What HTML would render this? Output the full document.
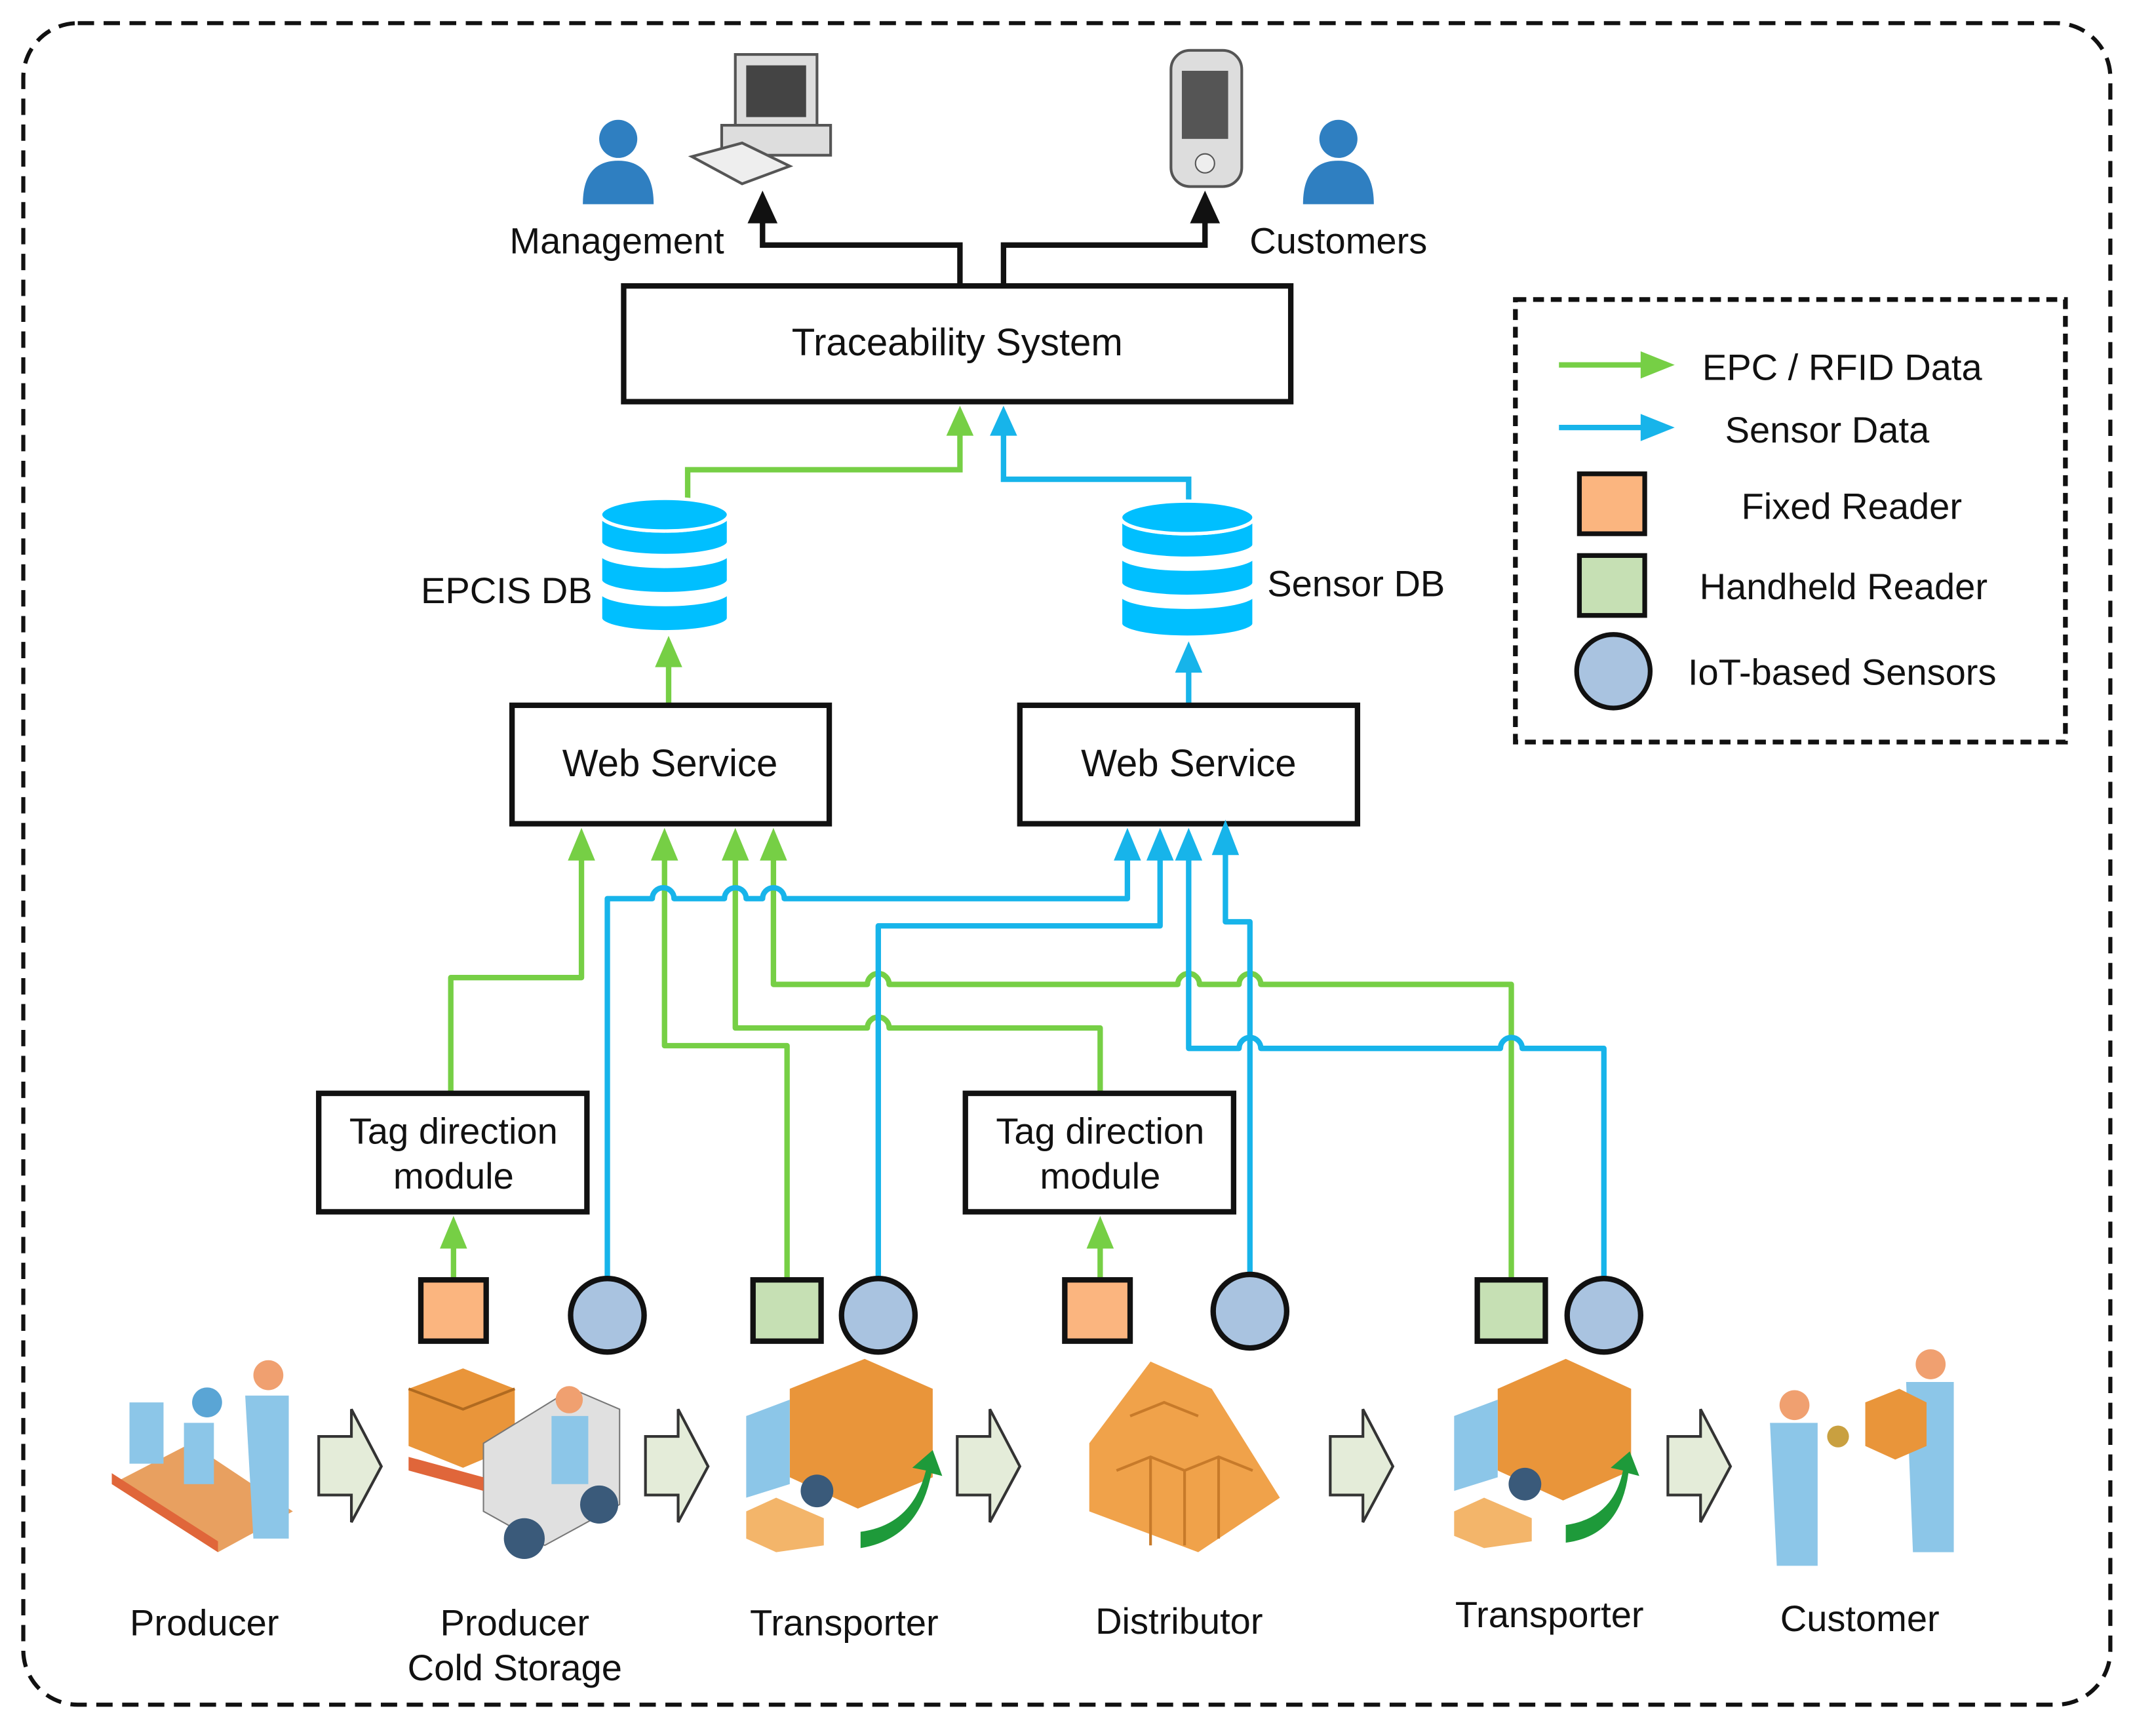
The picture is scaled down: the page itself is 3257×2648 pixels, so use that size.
<!DOCTYPE html>
<html><head><meta charset="utf-8"><style>
html,body{margin:0;padding:0;background:#fff}
svg{display:block}
text{font-family:"Liberation Sans",sans-serif;fill:#111}
</style></head><body>
<svg width="3257" height="2648" viewBox="0 0 1568 1275" xmlns="http://www.w3.org/2000/svg">
<rect x="17" y="17" width="1533" height="1235" rx="40" fill="none" stroke="#111" stroke-width="3" stroke-dasharray="12,7"/>

<g>
<circle cx="454" cy="102" r="14" fill="#2f7fc1"/>
<path d="M428,150 Q428,118 454,118 Q480,118 480,150 Z" fill="#2f7fc1"/>
<rect x="540" y="40" width="60" height="55" fill="#ddd" stroke="#555" stroke-width="2"/>
<rect x="548" y="48" width="44" height="38" fill="#444"/>
<rect x="530" y="92" width="80" height="22" fill="#ddd" stroke="#555" stroke-width="2"/>
<path d="M508,115 L545,135 L580,122 L545,105 Z" fill="#eee" stroke="#555" stroke-width="2"/>
<rect x="860" y="37" width="52" height="100" rx="14" fill="#ddd" stroke="#555" stroke-width="2"/>
<rect x="868" y="52" width="34" height="50" fill="#555"/>
<circle cx="885" cy="120" r="7" fill="#eee" stroke="#555"/>
<circle cx="983" cy="102" r="14" fill="#2f7fc1"/>
<path d="M957,150 Q957,118 983,118 Q1009,118 1009,150 Z" fill="#2f7fc1"/>
</g>
<text x="453" y="186" font-size="27" text-anchor="middle">Management</text>
<text x="983" y="186" font-size="27" text-anchor="middle">Customers</text>

<path d="M705,210 V180 H560 V162" fill="none" stroke="#111" stroke-width="4"/>
<path d="M549,164 L560,140 L571,164 Z" fill="#111"/>
<path d="M737,210 V180 H885 V162" fill="none" stroke="#111" stroke-width="4"/>
<path d="M874,164 L885,140 L896,164 Z" fill="#111"/>

<rect x="458" y="210" width="490" height="85" fill="#fff" stroke="#111" stroke-width="4"/>
<text x="703" y="261" font-size="28" text-anchor="middle">Traceability System</text>

<rect x="1113" y="220" width="404" height="325" fill="none" stroke="#111" stroke-width="3.5" stroke-dasharray="8,5"/>
<line x1="1145" y1="268" x2="1210" y2="268" stroke="#76cf45" stroke-width="4"/>
<path d="M1205,258 L1230,268 L1205,278 Z" fill="#76cf45"/>
<text x="1353" y="279" font-size="27" text-anchor="middle">EPC / RFID Data</text>
<line x1="1145" y1="314" x2="1210" y2="314" stroke="#17b4ea" stroke-width="4"/>
<path d="M1205,304 L1230,314 L1205,324 Z" fill="#17b4ea"/>
<text x="1342" y="325" font-size="27" text-anchor="middle">Sensor Data</text>
<rect x="1160" y="348" width="48" height="44" fill="#fbb57f" stroke="#111" stroke-width="3.5"/>
<text x="1360" y="381" font-size="27" text-anchor="middle">Fixed Reader</text>
<rect x="1160" y="408" width="48" height="44" fill="#c6e0b4" stroke="#111" stroke-width="3.5"/>
<text x="1354" y="440" font-size="27" text-anchor="middle">Handheld Reader</text>
<circle cx="1185" cy="493" r="27" fill="#a9c3e0" stroke="#111" stroke-width="3.5"/>
<text x="1353" y="503" font-size="27" text-anchor="middle">IoT-based Sensors</text>

<path d="M505,367 V345 H705 V318" fill="none" stroke="#76cf45" stroke-width="4"/>
<path d="M695,320 L705,298 L715,320 Z" fill="#76cf45"/>
<path d="M873,367 V352 H737 V318" fill="none" stroke="#17b4ea" stroke-width="4"/>
<path d="M727,320 L737,298 L747,320 Z" fill="#17b4ea"/>

<g fill="#00bfff" stroke="#fff" stroke-width="2.5">
<path d="M441,434 V454 A47,10 0 0 0 535,454 V434 A47,10 0 0 1 441,434 Z"/>
<path d="M441,406 V426 A47,10 0 0 0 535,426 V406 A47,10 0 0 1 441,406 Z"/>
<path d="M441,378 V398 A47,10 0 0 0 535,398 V378 A47,12 0 0 1 441,378 Z"/>
<ellipse cx="488" cy="378" rx="47" ry="12"/>
<path d="M823,436 V458 A49,10 0 0 0 921,458 V436 A49,10 0 0 1 823,436 Z"/>
<path d="M823,408 V428 A49,10 0 0 0 921,428 V408 A49,10 0 0 1 823,408 Z"/>
<path d="M823,380 V400 A49,10 0 0 0 921,400 V380 A49,12 0 0 1 823,380 Z"/>
<ellipse cx="872" cy="380" rx="49" ry="12"/>
</g>
<text x="372" y="443" font-size="27" text-anchor="middle">EPCIS DB</text>
<text x="996" y="438" font-size="27" text-anchor="middle">Sensor DB</text>

<line x1="491" y1="518" x2="491" y2="488" stroke="#76cf45" stroke-width="4"/>
<path d="M481,490 L491,467 L501,490 Z" fill="#76cf45"/>
<line x1="873" y1="518" x2="873" y2="492" stroke="#17b4ea" stroke-width="4"/>
<path d="M863,494 L873,471 L883,494 Z" fill="#17b4ea"/>

<rect x="376" y="518" width="233" height="87" fill="#fff" stroke="#111" stroke-width="4"/>
<text x="492" y="570" font-size="28" text-anchor="middle">Web Service</text>
<rect x="749" y="518" width="248" height="87" fill="#fff" stroke="#111" stroke-width="4"/>
<text x="873" y="570" font-size="28" text-anchor="middle">Web Service</text>

<g fill="none" stroke-width="4" stroke-linejoin="round">
<path d="M331,803 V718 H427 V630" stroke="#76cf45"/>
<path d="M578,940 V768 H488 V630" stroke="#76cf45"/>
<path d="M808,803 V755 H653 A8,8 0 0 0 637,755 H540 V630" stroke="#76cf45"/>
<path d="M1110,940 V723 H926 A8,8 0 0 0 910,723 H881 A8,8 0 0 0 865,723 H653 A8,8 0 0 0 637,723 H568 V630" stroke="#76cf45"/>
<line x1="333" y1="940" x2="333" y2="915" stroke="#76cf45"/>
<line x1="808" y1="940" x2="808" y2="915" stroke="#76cf45"/>
<path d="M446,940 V660 H479 A8,8 0 0 1 495,660 H532 A8,8 0 0 1 548,660 H560 A8,8 0 0 1 576,660 H828 V630" stroke="#17b4ea"/>
<path d="M645,940 V680 H852 V630" stroke="#17b4ea"/>
<path d="M918,940 V677 H900 V626" stroke="#17b4ea"/>
<path d="M1178,940 V770 H1118 A8,8 0 0 0 1102,770 H926 A8,8 0 0 0 910,770 H873 V630" stroke="#17b4ea"/>
</g>
<g>
<path d="M417,632 L427,608 L437,632 Z" fill="#76cf45"/>
<path d="M478,632 L488,608 L498,632 Z" fill="#76cf45"/>
<path d="M530,632 L540,608 L550,632 Z" fill="#76cf45"/>
<path d="M558,632 L568,608 L578,632 Z" fill="#76cf45"/>
<path d="M323,917 L333,893 L343,917 Z" fill="#76cf45"/>
<path d="M798,917 L808,893 L818,917 Z" fill="#76cf45"/>
<path d="M818,632 L828,608 L838,632 Z" fill="#17b4ea"/>
<path d="M842,632 L852,608 L862,632 Z" fill="#17b4ea"/>
<path d="M863,632 L873,608 L883,632 Z" fill="#17b4ea"/>
<path d="M890,628 L900,602 L910,628 Z" fill="#17b4ea"/>
</g>

<rect x="234" y="803" width="197" height="87" fill="#fff" stroke="#111" stroke-width="4"/>
<text x="333" y="840" font-size="27" text-anchor="middle">Tag direction</text>
<text x="333" y="873" font-size="27" text-anchor="middle">module</text>
<rect x="709" y="803" width="197" height="87" fill="#fff" stroke="#111" stroke-width="4"/>
<text x="808" y="840" font-size="27" text-anchor="middle">Tag direction</text>
<text x="808" y="873" font-size="27" text-anchor="middle">module</text>

<g stroke="#111" stroke-width="4">
<rect x="309" y="940" width="48" height="45" fill="#fbb57f"/>
<circle cx="446" cy="966" r="27" fill="#a9c3e0"/>
<rect x="553" y="940" width="50" height="45" fill="#c6e0b4"/>
<circle cx="645" cy="966" r="27" fill="#a9c3e0"/>
<rect x="782" y="940" width="48" height="45" fill="#fbb57f"/>
<circle cx="918" cy="963" r="27" fill="#a9c3e0"/>
<rect x="1085" y="940" width="50" height="45" fill="#c6e0b4"/>
<circle cx="1178" cy="966" r="27" fill="#a9c3e0"/>
</g>

<g fill="#e4ecd9" stroke="#333" stroke-width="2">
<path d="M234,1055 H258 V1035 L280,1077 L258,1118 V1098 H234 Z"/>
<path d="M474,1055 H498 V1035 L520,1077 L498,1118 V1098 H474 Z"/>
<path d="M703,1055 H727 V1035 L749,1077 L727,1118 V1098 H703 Z"/>
<path d="M977,1055 H1001 V1035 L1023,1077 L1001,1118 V1098 H977 Z"/>
<path d="M1225,1055 H1249 V1035 L1271,1077 L1249,1118 V1098 H1225 Z"/>
</g>

<g>
<path d="M82,1090 L140,1060 L215,1110 L160,1140 Z" fill="#e8a060"/>
<path d="M82,1090 L160,1140 L160,1132 L82,1082 Z" fill="#e0663a"/>
<rect x="95" y="1030" width="25" height="45" fill="#8cc6e8"/>
<rect x="135" y="1045" width="22" height="45" fill="#8cc6e8"/>
<circle cx="152" cy="1030" r="11" fill="#5aa5d5"/>
<circle cx="197" cy="1010" r="11" fill="#f0a070"/>
<path d="M180,1025 H212 V1130 H186 Z" fill="#8cc6e8"/>
<path d="M300,1020 L340,1005 L378,1020 L378,1062 L340,1078 L300,1062 Z" fill="#e9953a"/>
<path d="M300,1020 L340,1035 L378,1020" fill="none" stroke="#b06a20" stroke-width="2"/>
<path d="M355,1060 L420,1020 L455,1035 L455,1105 L400,1135 L355,1110 Z" fill="#e0e0e0" stroke="#777"/>
<circle cx="418" cy="1028" r="10" fill="#f0a070"/>
<path d="M405,1040 H432 V1090 H405 Z" fill="#8cc6e8"/>
<circle cx="385" cy="1130" r="15" fill="#3a5a7a"/>
<circle cx="440" cy="1105" r="14" fill="#3a5a7a"/>
<path d="M300,1070 L355,1085 L355,1095 L300,1080 Z" fill="#e0663a"/>
<path d="M580,1020 L635,998 L685,1020 L685,1085 L630,1108 L580,1085 Z" fill="#e9953a"/>
<path d="M548,1040 L580,1028 L580,1090 L548,1100 Z" fill="#8cc6e8"/>
<circle cx="600" cy="1095" r="12" fill="#3a5a7a"/>
<path d="M548,1110 L570,1100 L605,1115 L605,1135 L570,1140 L548,1130 Z" fill="#f3b56a"/>
<path d="M632,1125 Q670,1120 680,1080 L670,1078 L685,1065 L692,1084 L684,1082 Q675,1130 632,1137 Z" fill="#1e9a3a"/>
<path d="M800,1060 L845,1000 L890,1020 L940,1100 L880,1140 L800,1110 Z" fill="#f0a24a"/>
<g stroke="#c77a2a" stroke-width="2" fill="none">
<path d="M820,1080 L845,1070 L870,1080 L895,1070 L920,1080"/>
<path d="M830,1040 L855,1030 L880,1040"/>
<path d="M845,1070 V1135 M870,1080 V1135 M895,1070 V1130"/>
</g>
<path d="M1100,1020 L1150,998 L1198,1020 L1198,1080 L1148,1102 L1100,1080 Z" fill="#e9953a"/>
<path d="M1068,1040 L1100,1028 L1100,1085 L1068,1095 Z" fill="#8cc6e8"/>
<circle cx="1120" cy="1090" r="12" fill="#3a5a7a"/>
<path d="M1068,1110 L1090,1100 L1125,1115 L1125,1132 L1090,1137 L1068,1128 Z" fill="#f3b56a"/>
<path d="M1150,1120 Q1185,1115 1192,1080 L1183,1078 L1197,1066 L1204,1084 L1196,1082 Q1190,1128 1150,1133 Z" fill="#1e9a3a"/>
<circle cx="1318" cy="1032" r="11" fill="#f0a070"/>
<path d="M1300,1045 H1335 V1150 H1305 Z" fill="#8cc6e8"/>
<circle cx="1418" cy="1002" r="11" fill="#f0a070"/>
<path d="M1400,1015 H1435 V1140 H1405 Z" fill="#8cc6e8"/>
<path d="M1370,1030 L1395,1020 L1415,1030 L1415,1062 L1392,1072 L1370,1062 Z" fill="#e9953a"/>
<circle cx="1350" cy="1055" r="8" fill="#c9a040"/>
</g>

<g font-size="27" text-anchor="middle">
<text x="150" y="1201">Producer</text>
<text x="378" y="1201">Producer</text>
<text x="378" y="1234">Cold Storage</text>
<text x="620" y="1201">Transporter</text>
<text x="866" y="1200">Distributor</text>
<text x="1138" y="1195">Transporter</text>
<text x="1366" y="1198">Customer</text>
</g>
</svg>
</body></html>
